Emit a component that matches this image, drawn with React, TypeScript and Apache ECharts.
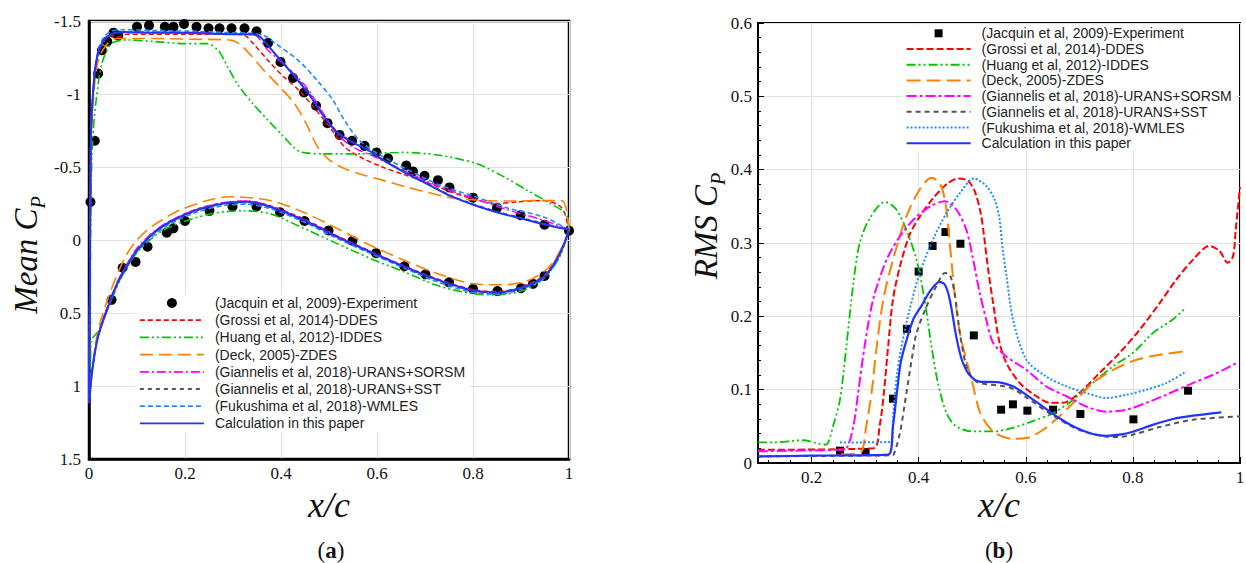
import React, { useEffect, useRef } from "react";
import * as echarts from "echarts";

type P = [number, number];

const NAMES = [
  "(Jacquin et al, 2009)-Experiment",
  "(Grossi et al, 2014)-DDES",
  "(Huang et al, 2012)-IDDES",
  "(Deck, 2005)-ZDES",
  "(Giannelis et al, 2018)-URANS+SORSM",
  "(Giannelis et al, 2018)-URANS+SST",
  "(Fukushima et al, 2018)-WMLES",
  "Calculation in this paper",
];
const COLORS = ["#000000", "#ff0000", "#00c400", "#ff8000", "#ff00ff", "#555555", "#1a8cff", "#2233ff"];

const X_TICKS_A = [0, 0.2, 0.4, 0.6, 0.8, 1];
const Y_TICKS_A = [-1.5, -1, -0.5, 0, 0.5, 1, 1.5];
const Y_TICKS_B = [0, 0.1, 0.2, 0.3, 0.4, 0.5, 0.6];

// ---------- (a) Mean Cp : upper surface and lower surface, x/c ascending ----------
const EXP_MEAN_UPPER: P[] = [
  [0.003, -0.26], [0.012, -0.68], [0.019, -1.14], [0.027, -1.3], [0.038, -1.36], [0.051, -1.42],
  [0.061, -1.4], [0.1, -1.46], [0.125, -1.47], [0.158, -1.46], [0.176, -1.46], [0.198, -1.48],
  [0.224, -1.46], [0.249, -1.45], [0.272, -1.45], [0.297, -1.45], [0.324, -1.45], [0.349, -1.43],
  [0.373, -1.35], [0.399, -1.22], [0.425, -1.11], [0.448, -1.01], [0.473, -0.92], [0.497, -0.8],
  [0.522, -0.72], [0.548, -0.68], [0.574, -0.645], [0.599, -0.6], [0.623, -0.56], [0.661, -0.51],
  [0.675, -0.47], [0.699, -0.44], [0.727, -0.41], [0.751, -0.36], [0.8, -0.29], [0.85, -0.22],
  [0.899, -0.17], [0.949, -0.105], [1.0, -0.064],
];
const EXP_MEAN_LOWER: P[] = [
  [0.047, 0.41], [0.07, 0.19], [0.097, 0.15], [0.122, 0.046], [0.162, -0.05], [0.176, -0.08],
  [0.2, -0.13], [0.251, -0.2], [0.299, -0.23], [0.349, -0.23], [0.398, -0.19], [0.449, -0.13],
  [0.499, -0.065], [0.549, 0.005], [0.598, 0.09], [0.657, 0.18], [0.701, 0.235], [0.75, 0.29],
  [0.8, 0.335], [0.851, 0.35], [0.9, 0.33], [0.925, 0.3], [0.949, 0.246],
];
const DDES_MEAN_UPPER: P[] = [
  [0.002, 0.2], [0.003, -0.3], [0.004, -0.72], [0.011, -1.1], [0.019, -1.27], [0.031, -1.36],
  [0.047, -1.4], [0.06, -1.39], [0.08, -1.41], [0.2, -1.41], [0.3, -1.41], [0.325, -1.4],
  [0.341, -1.35], [0.373, -1.23], [0.405, -1.12], [0.436, -1.03], [0.468, -0.91], [0.5, -0.78],
  [0.532, -0.64], [0.564, -0.57], [0.611, -0.5], [0.659, -0.445], [0.707, -0.39], [0.754, -0.33],
  [0.802, -0.28], [0.85, -0.25], [0.89, -0.26], [0.945, -0.27], [0.985, -0.22], [1, -0.06],
];
const DDES_MEAN_LOWER: P[] = [
  [0, 1.1], [0.007, 0.88], [0.019, 0.65], [0.044, 0.41], [0.075, 0.19], [0.1, 0.07], [0.134, -0.05],
  [0.169, -0.13], [0.224, -0.21], [0.28, -0.255], [0.329, -0.265], [0.377, -0.235], [0.447, -0.145],
  [0.516, -0.03], [0.585, 0.075], [0.655, 0.175], [0.724, 0.265], [0.794, 0.335], [0.849, 0.355],
  [0.897, 0.325], [0.945, 0.25], [0.977, 0.11], [1, -0.06],
];
const IDDES_MEAN_UPPER: P[] = [
  [0.003, 0.4], [0.004, -0.3], [0.008, -0.7], [0.015, -0.96], [0.027, -1.21], [0.047, -1.345],
  [0.079, -1.37], [0.134, -1.36], [0.198, -1.345], [0.246, -1.345], [0.269, -1.3], [0.285, -1.21],
  [0.309, -1.07], [0.341, -0.935], [0.373, -0.82], [0.405, -0.71], [0.428, -0.63], [0.444, -0.6],
  [0.492, -0.59], [0.572, -0.59], [0.651, -0.6], [0.731, -0.58], [0.81, -0.52], [0.866, -0.43],
  [0.913, -0.34], [0.961, -0.25], [0.993, -0.18], [1, -0.07],
];
const IDDES_MEAN_LOWER: P[] = [
  [0.003, 1.05], [0.004, 0.7], [0.02, 0.62], [0.04, 0.46], [0.07, 0.24], [0.099, 0.09], [0.134, -0.02],
  [0.169, -0.09], [0.252, -0.178], [0.322, -0.2], [0.377, -0.18], [0.447, -0.08], [0.516, 0.023],
  [0.585, 0.125], [0.655, 0.216], [0.724, 0.31], [0.794, 0.365], [0.849, 0.376], [0.9, 0.35],
  [0.945, 0.27], [0.98, 0.12], [1, -0.07],
];
const ZDES_MEAN_UPPER: P[] = [
  [0.002, 0.2], [0.003, -0.3], [0.005, -0.7], [0.012, -1.08], [0.02, -1.24], [0.035, -1.33],
  [0.055, -1.38], [0.134, -1.38], [0.214, -1.375], [0.293, -1.37], [0.313, -1.345], [0.333, -1.28],
  [0.365, -1.16], [0.397, -1.05], [0.428, -0.935], [0.452, -0.8], [0.476, -0.64], [0.5, -0.55],
  [0.532, -0.49], [0.572, -0.445], [0.611, -0.41], [0.659, -0.365], [0.707, -0.325], [0.754, -0.29],
  [0.802, -0.275], [0.85, -0.267], [0.89, -0.267], [0.929, -0.27], [0.985, -0.27], [1, -0.07],
];
const ZDES_MEAN_LOWER: P[] = [
  [0, 1.1], [0.007, 0.87], [0.019, 0.62], [0.044, 0.36], [0.075, 0.12], [0.1, 0.0], [0.134, -0.1],
  [0.2, -0.22], [0.294, -0.296], [0.377, -0.27], [0.447, -0.19], [0.516, -0.08], [0.585, 0.034],
  [0.655, 0.137], [0.724, 0.228], [0.794, 0.296], [0.863, 0.307], [0.92, 0.27], [0.96, 0.18],
  [0.985, 0.05], [1, -0.07],
];
const SORSM_MEAN_UPPER: P[] = [
  [0.002, 0.2], [0.003, -0.3], [0.004, -0.72], [0.011, -1.11], [0.019, -1.28], [0.031, -1.37],
  [0.047, -1.41], [0.071, -1.425], [0.134, -1.425], [0.214, -1.42], [0.293, -1.41], [0.341, -1.41],
  [0.373, -1.3], [0.42, -1.16], [0.452, -1.05], [0.484, -0.89], [0.516, -0.73], [0.548, -0.64],
  [0.595, -0.57], [0.659, -0.47], [0.731, -0.365], [0.802, -0.285], [0.874, -0.205], [0.945, -0.137],
  [1, -0.07],
];
const SORSM_MEAN_LOWER: P[] = [
  [0, 1.1], [0.007, 0.885], [0.019, 0.655], [0.044, 0.41], [0.06, 0.28], [0.075, 0.19], [0.099, 0.06],
  [0.134, -0.055], [0.169, -0.13], [0.224, -0.21], [0.28, -0.255], [0.329, -0.268], [0.377, -0.232],
  [0.447, -0.14], [0.516, -0.028], [0.585, 0.078], [0.655, 0.18], [0.724, 0.272], [0.794, 0.345],
  [0.849, 0.365], [0.897, 0.335], [0.945, 0.262], [0.977, 0.12], [1, -0.065],
];
const SST_MEAN_UPPER: P[] = [
  [0.002, 0.2], [0.003, -0.3], [0.004, -0.72], [0.011, -1.11], [0.019, -1.28], [0.031, -1.37],
  [0.047, -1.41], [0.071, -1.42], [0.134, -1.42], [0.214, -1.415], [0.293, -1.41], [0.341, -1.405],
  [0.357, -1.385], [0.381, -1.3], [0.405, -1.215], [0.436, -1.1], [0.46, -1.0], [0.484, -0.88],
  [0.516, -0.745], [0.548, -0.675], [0.579, -0.625], [0.611, -0.555], [0.659, -0.465], [0.707, -0.385],
  [0.754, -0.305], [0.802, -0.245], [0.85, -0.195], [0.897, -0.155], [0.945, -0.115], [1, -0.07],
];
const SST_MEAN_LOWER: P[] = [
  [0, 1.1], [0.007, 0.88], [0.019, 0.655], [0.044, 0.415], [0.06, 0.285], [0.075, 0.195], [0.099, 0.07],
  [0.134, -0.045], [0.169, -0.12], [0.224, -0.2], [0.28, -0.245], [0.329, -0.255], [0.377, -0.222],
  [0.447, -0.13], [0.516, -0.018], [0.585, 0.085], [0.655, 0.185], [0.724, 0.275], [0.794, 0.345],
  [0.849, 0.362], [0.897, 0.332], [0.945, 0.262], [0.977, 0.12], [1, -0.065],
];
const WMLES_MEAN_UPPER: P[] = [
  [0.002, 0.2], [0.003, -0.3], [0.004, -0.74], [0.011, -1.13], [0.019, -1.3], [0.031, -1.39],
  [0.047, -1.43], [0.071, -1.44], [0.134, -1.435], [0.214, -1.43], [0.293, -1.42], [0.341, -1.415],
  [0.365, -1.4], [0.389, -1.345], [0.436, -1.23], [0.476, -1.09], [0.508, -0.96], [0.532, -0.82],
  [0.564, -0.68], [0.603, -0.59], [0.659, -0.49], [0.731, -0.376], [0.802, -0.3], [0.874, -0.217],
  [0.945, -0.16], [1, -0.07],
];
const WMLES_MEAN_LOWER: P[] = [
  [0, 1.1], [0.007, 0.89], [0.019, 0.665], [0.044, 0.43], [0.06, 0.3], [0.075, 0.21], [0.099, 0.085],
  [0.134, -0.03], [0.169, -0.11], [0.224, -0.19], [0.28, -0.235], [0.329, -0.245], [0.377, -0.215],
  [0.447, -0.125], [0.516, -0.012], [0.585, 0.09], [0.655, 0.19], [0.724, 0.285], [0.794, 0.355],
  [0.849, 0.372], [0.897, 0.34], [0.945, 0.27], [0.977, 0.13], [1, -0.065],
];
const CALC_MEAN_UPPER: P[] = [
  [0.002, 0.2], [0.003, -0.3], [0.004, -0.73], [0.011, -1.12], [0.019, -1.28], [0.031, -1.37],
  [0.047, -1.41], [0.071, -1.425], [0.134, -1.42], [0.214, -1.42], [0.293, -1.41], [0.341, -1.41],
  [0.357, -1.39], [0.381, -1.3], [0.405, -1.21], [0.436, -1.09], [0.46, -0.99], [0.484, -0.87],
  [0.516, -0.74], [0.548, -0.67], [0.579, -0.62], [0.611, -0.55], [0.659, -0.46], [0.707, -0.38],
  [0.754, -0.3], [0.802, -0.24], [0.85, -0.19], [0.897, -0.15], [0.945, -0.11], [1.0, -0.07],
];
const CALC_MEAN_LOWER: P[] = [
  [0, 1.12], [0.007, 0.89], [0.019, 0.66], [0.044, 0.42], [0.06, 0.29], [0.075, 0.2], [0.099, 0.075],
  [0.134, -0.046], [0.169, -0.125], [0.224, -0.205], [0.28, -0.25], [0.329, -0.262], [0.377, -0.228],
  [0.447, -0.137], [0.516, -0.023], [0.585, 0.08], [0.655, 0.18], [0.724, 0.27], [0.794, 0.34],
  [0.849, 0.36], [0.897, 0.33], [0.945, 0.26], [0.977, 0.12], [1.0, -0.065],
];

// ---------- (b) RMS Cp ----------
const EXP_RMS: P[] = [
  [0.253, 0.0168], [0.301, 0.015], [0.352, 0.0877], [0.378, 0.183], [0.4, 0.261], [0.426, 0.296],
  [0.45, 0.315], [0.478, 0.299], [0.503, 0.174], [0.554, 0.0727], [0.576, 0.08], [0.603, 0.0714],
  [0.651, 0.0727], [0.702, 0.0668], [0.801, 0.0595], [0.903, 0.0986],
];
const DDES_RMS: P[] = [
  [0.1, 0.018], [0.315, 0.02], [0.327, 0.05], [0.335, 0.0955], [0.343, 0.159], [0.352, 0.223],
  [0.365, 0.268], [0.383, 0.311], [0.402, 0.336], [0.427, 0.361], [0.452, 0.38], [0.474, 0.388],
  [0.492, 0.385], [0.505, 0.37], [0.516, 0.34], [0.522, 0.31], [0.529, 0.268], [0.539, 0.218],
  [0.551, 0.164], [0.564, 0.136], [0.589, 0.109], [0.62, 0.091], [0.645, 0.082], [0.669, 0.082],
  [0.7, 0.0955], [0.738, 0.123], [0.775, 0.15], [0.813, 0.182], [0.85, 0.218], [0.881, 0.25],
  [0.912, 0.277], [0.943, 0.296], [0.962, 0.289], [0.977, 0.273], [0.987, 0.282], [0.992, 0.318],
  [1.0, 0.376],
];
const IDDES_RMS: P[] = [
  [0.1, 0.028], [0.128, 0.028], [0.184, 0.031], [0.215, 0.026], [0.227, 0.025], [0.24, 0.05],
  [0.253, 0.086], [0.265, 0.159], [0.278, 0.245], [0.29, 0.3], [0.309, 0.334], [0.337, 0.356],
  [0.358, 0.346], [0.377, 0.318], [0.396, 0.277], [0.411, 0.223], [0.424, 0.159], [0.436, 0.109],
  [0.452, 0.068], [0.47, 0.05], [0.501, 0.043], [0.539, 0.043], [0.576, 0.048], [0.613, 0.057],
  [0.651, 0.068], [0.688, 0.086], [0.725, 0.109], [0.763, 0.132], [0.8, 0.15], [0.837, 0.177],
  [0.875, 0.196], [0.898, 0.211],
];
const ZDES_RMS: P[] = [
  [0.255, 0.012], [0.29, 0.013], [0.302, 0.05], [0.312, 0.0955], [0.321, 0.155], [0.334, 0.223],
  [0.352, 0.277], [0.377, 0.336], [0.402, 0.373], [0.424, 0.389], [0.439, 0.382], [0.449, 0.359],
  [0.455, 0.323], [0.461, 0.277], [0.467, 0.232], [0.477, 0.177], [0.489, 0.141], [0.5, 0.11],
  [0.514, 0.07], [0.53, 0.05], [0.55, 0.038], [0.575, 0.033], [0.601, 0.034], [0.632, 0.045],
  [0.663, 0.064], [0.694, 0.086], [0.725, 0.109], [0.763, 0.127], [0.8, 0.139], [0.837, 0.146],
  [0.893, 0.152],
];
const SORSM_RMS: P[] = [
  [0.1, 0.016], [0.25, 0.018], [0.265, 0.02], [0.278, 0.05], [0.287, 0.0955], [0.299, 0.159],
  [0.315, 0.223], [0.34, 0.277], [0.365, 0.309], [0.396, 0.336], [0.427, 0.352], [0.449, 0.357],
  [0.47, 0.346], [0.489, 0.318], [0.501, 0.28], [0.514, 0.232], [0.526, 0.196], [0.539, 0.164],
  [0.564, 0.145], [0.601, 0.127], [0.638, 0.1045], [0.676, 0.091], [0.713, 0.077], [0.75, 0.07],
  [0.788, 0.0727], [0.825, 0.082], [0.862, 0.093], [0.912, 0.109], [0.949, 0.12], [0.993, 0.136],
];
const SST_RMS: P[] = [
  [0.1, 0.009], [0.35, 0.0105], [0.353, 0.011], [0.365, 0.041], [0.377, 0.095], [0.387, 0.141],
  [0.396, 0.177], [0.415, 0.214], [0.433, 0.241], [0.449, 0.259], [0.458, 0.257], [0.467, 0.232],
  [0.477, 0.177], [0.489, 0.132], [0.501, 0.115], [0.514, 0.109], [0.57, 0.103], [0.6, 0.09],
  [0.65, 0.065], [0.7, 0.045], [0.75, 0.0362], [0.775, 0.0355], [0.8, 0.0386], [0.85, 0.049],
  [0.912, 0.059], [1.0, 0.0636],
];
const WMLES_RMS: P[] = [
  [0.253, 0.028], [0.35, 0.029], [0.352, 0.059], [0.359, 0.118], [0.368, 0.159], [0.383, 0.209],
  [0.402, 0.259], [0.427, 0.305], [0.452, 0.341], [0.477, 0.368], [0.503, 0.388], [0.526, 0.378],
  [0.542, 0.359], [0.551, 0.332], [0.557, 0.291], [0.564, 0.255], [0.576, 0.196], [0.601, 0.141],
  [0.638, 0.118], [0.676, 0.1045], [0.713, 0.0955], [0.75, 0.0887], [0.788, 0.093], [0.825, 0.1],
  [0.862, 0.109], [0.9, 0.125],
];
const CALC_RMS: P[] = [
  [0.1, 0.009], [0.2, 0.01], [0.343, 0.0113], [0.352, 0.05], [0.36, 0.1], [0.366, 0.135],
  [0.374, 0.159], [0.39, 0.196], [0.405, 0.214], [0.421, 0.234], [0.439, 0.247], [0.449, 0.243],
  [0.458, 0.223], [0.47, 0.173], [0.477, 0.15], [0.483, 0.136], [0.495, 0.12], [0.514, 0.111],
  [0.551, 0.11], [0.576, 0.1045], [0.601, 0.093], [0.632, 0.077], [0.663, 0.061], [0.694, 0.048],
  [0.725, 0.0395], [0.75, 0.037], [0.775, 0.0386], [0.8, 0.0427], [0.837, 0.052], [0.875, 0.06],
  [0.912, 0.0645], [0.965, 0.069],
];

const MEAN_UPPER = [DDES_MEAN_UPPER, IDDES_MEAN_UPPER, ZDES_MEAN_UPPER, SORSM_MEAN_UPPER, SST_MEAN_UPPER, WMLES_MEAN_UPPER, CALC_MEAN_UPPER];
const MEAN_LOWER = [DDES_MEAN_LOWER, IDDES_MEAN_LOWER, ZDES_MEAN_LOWER, SORSM_MEAN_LOWER, SST_MEAN_LOWER, WMLES_MEAN_LOWER, CALC_MEAN_LOWER];
const RMS = [DDES_RMS, IDDES_RMS, ZDES_RMS, SORSM_RMS, SST_RMS, WMLES_RMS, CALC_RMS];

// line dash patterns (index 1..7 of NAMES)
const DASH_A: (number[] | "solid")[] = [[5, 3], [9, 3, 2, 3, 2, 3], [13, 6], [9, 3, 2, 3], [4, 4], [5, 3], "solid"];
const WIDTH_A = [1.5, 1.6, 1.6, 1.5, 1.5, 1.6, 2];
const DASH_B: (number[] | "solid")[] = [[7, 3], [9, 3, 2, 3, 2, 3], [14, 6], [10, 3, 3, 3], [5, 4], [2, 2], "solid"];
const WIDTH_B = [2, 1.8, 2, 2, 2, 2, 2.2];

const SERIF = "Liberation Serif";
const SANS = "Liberation Sans";

export default function App() {
  const ref = useRef<HTMLDivElement>(null);
  useEffect(() => {
    if (!ref.current) return;
    const chart = echarts.init(ref.current, null, { renderer: "svg" });

    const series: any[] = [];
    series.push({
      type: "scatter", name: NAMES[0], xAxisIndex: 0, yAxisIndex: 0,
      symbol: "circle", symbolSize: 10, itemStyle: { color: COLORS[0], opacity: 1 },
      data: [...EXP_MEAN_UPPER, ...EXP_MEAN_LOWER],
    });
    MEAN_UPPER.forEach((up, k) => {
      series.push({
        type: "line", name: NAMES[k + 1], xAxisIndex: 0, yAxisIndex: 0,
        symbol: "none", smooth: 0.3,
        lineStyle: { color: COLORS[k + 1], width: WIDTH_A[k], type: DASH_A[k] },
        itemStyle: { color: COLORS[k + 1] },
        data: [...up.slice().reverse(), ...MEAN_LOWER[k]],
      });
    });
    series.push({
      type: "scatter", name: NAMES[0], xAxisIndex: 1, yAxisIndex: 1,
      symbol: "rect", symbolSize: 8, itemStyle: { color: COLORS[0], opacity: 1 }, data: EXP_RMS,
    });
    RMS.forEach((d, k) => {
      series.push({
        type: "line", name: NAMES[k + 1], xAxisIndex: 1, yAxisIndex: 1,
        symbol: "none", smooth: 0.3,
        lineStyle: { color: COLORS[k + 1], width: WIDTH_B[k], type: DASH_B[k] },
        itemStyle: { color: COLORS[k + 1] },
        data: d,
      });
    });

    const legendA = NAMES.map((n, i) =>
      i === 0 ? { name: n, icon: "circle", itemStyle: { opacity: 1 } } : { name: n, itemStyle: { opacity: 0 } }
    );
    const legendB = NAMES.map((n, i) =>
      i === 0
        ? { name: n, icon: "path://M0,0H10V10H0Z", itemStyle: { opacity: 1 } }
        : { name: n, itemStyle: { opacity: 0 }, lineStyle: { type: DASH_B[i - 1], width: 2 } }
    );

    const tickLabel = { fontFamily: SERIF, fontSize: 17, color: "#111" };
    const splitLine = { show: true, lineStyle: { color: "#e2e2e2", width: 1 } };

    chart.setOption({
      animation: false,
      backgroundColor: "#ffffff",
      grid: [
        { left: 89, top: 21, width: 480, height: 438, show: true, borderColor: "#000", borderWidth: 2.5, backgroundColor: "#fff", outerBoundsMode: "none", containLabel: false },
        { left: 758, top: 23, width: 482, height: 440, show: true, borderColor: "#000", borderWidth: 2, backgroundColor: "#fff", outerBoundsMode: "none", containLabel: false },
      ],
      xAxis: [
        {
          type: "value", gridIndex: 0, min: X_TICKS_A[0], max: X_TICKS_A[X_TICKS_A.length - 1], interval: 0.2,
          axisLine: { show: true, onZero: false, lineStyle: { color: "#000", width: 2.5 } },
          axisTick: { show: false }, splitLine,
          axisLabel: { ...tickLabel, margin: 6 },
        },
        {
          type: "value", gridIndex: 1, min: 0.1, max: 1, splitNumber: 5,
          axisLine: { show: true, onZero: false, lineStyle: { color: "#000", width: 2 } },
          axisTick: { show: true, inside: true, length: 6, lineStyle: { color: "#000", width: 1 } },
          minorTick: { show: true, splitNumber: 5, length: 3, lineStyle: { color: "#000", width: 1 } },
          splitLine,
          axisLabel: { ...tickLabel, margin: 6, showMinLabel: false },
        },
      ],
      yAxis: [
        {
          type: "value", gridIndex: 0, min: Y_TICKS_A[0], max: Y_TICKS_A[Y_TICKS_A.length - 1], interval: 0.5, inverse: true,
          axisLine: { show: true, onZero: false, lineStyle: { color: "#000", width: 2.5 } },
          axisTick: { show: false }, splitLine,
          axisLabel: { ...tickLabel, margin: 8 },
        },
        {
          type: "value", gridIndex: 1, min: Y_TICKS_B[0], max: Y_TICKS_B[Y_TICKS_B.length - 1], interval: 0.1,
          axisLine: { show: true, onZero: false, lineStyle: { color: "#000", width: 2 } },
          axisTick: { show: true, inside: true, length: 6, lineStyle: { color: "#000", width: 1 } },
          minorTick: { show: true, splitNumber: 5, length: 3, lineStyle: { color: "#000", width: 1 } },
          splitLine,
          axisLabel: { ...tickLabel, margin: 6 },
        },
      ],
      legend: [
        {
          orient: "vertical", left: 135, top: 295, padding: [1, 4, 1, 4],
          itemWidth: 64, itemHeight: 10, itemGap: 3.2, backgroundColor: "#fff", selectedMode: false,
          symbolKeepAspect: true,
          lineStyle: { width: 1.8 },
          textStyle: { fontFamily: SANS, fontSize: 14, color: "#222", padding: [0, 0, 0, 6] },
          data: legendA,
        },
        {
          orient: "vertical", left: 902.6, top: 25.3, padding: [1, 4, 1, 3],
          itemWidth: 64, itemHeight: 8, itemGap: 1.7, backgroundColor: "#fff", selectedMode: false,
          symbolKeepAspect: true,
          lineStyle: { width: 2 },
          textStyle: { fontFamily: SANS, fontSize: 14, color: "#222", padding: [0, 0, 0, 6] },
          data: legendB,
        },
      ],
      graphic: [
        {
          type: "text", x: 26, y: 255, rotation: Math.PI / 2,
          style: {
            text: "{m|Mean C}{s|P}", align: "center", verticalAlign: "middle",
            rich: {
              m: { fontFamily: SERIF, fontStyle: "italic", fontSize: 33, lineHeight: 44, fill: "#111" },
              s: { fontFamily: SERIF, fontStyle: "italic", fontSize: 20, lineHeight: 20, verticalAlign: "bottom", fill: "#111" },
            },
          },
        },
        {
          type: "text", x: 706, y: 226, rotation: Math.PI / 2,
          style: {
            text: "{m|RMS C}{s|P}", align: "center", verticalAlign: "middle",
            rich: {
              m: { fontFamily: SERIF, fontStyle: "italic", fontSize: 33, lineHeight: 44, fill: "#111" },
              s: { fontFamily: SERIF, fontStyle: "italic", fontSize: 20, lineHeight: 20, verticalAlign: "bottom", fill: "#111" },
            },
          },
        },
        {
          type: "text", x: 329, y: 505,
          style: { text: "x/c", font: `italic 36px "${SERIF}"`, align: "center", verticalAlign: "middle", fill: "#111" },
        },
        {
          type: "text", x: 999, y: 505,
          style: { text: "x/c", font: `italic 36px "${SERIF}"`, align: "center", verticalAlign: "middle", fill: "#111" },
        },
        {
          type: "text", x: 331, y: 550,
          style: {
            text: "{p|(}{b|a}{p|)}", align: "center", verticalAlign: "middle",
            rich: {
              p: { fontFamily: SERIF, fontSize: 23, fill: "#111" },
              b: { fontFamily: SERIF, fontSize: 23, fontWeight: "bold", fill: "#111" },
            },
          },
        },
        {
          type: "text", x: 999, y: 550,
          style: {
            text: "{p|(}{b|b}{p|)}", align: "center", verticalAlign: "middle",
            rich: {
              p: { fontFamily: SERIF, fontSize: 23, fill: "#111" },
              b: { fontFamily: SERIF, fontSize: 23, fontWeight: "bold", fill: "#111" },
            },
          },
        },
      ],
      series,
    });
    return () => chart.dispose();
  }, []);
  return <div ref={ref} style={{ position: "absolute", left: 0, top: 0, width: 1246, height: 563 }} />;
}
